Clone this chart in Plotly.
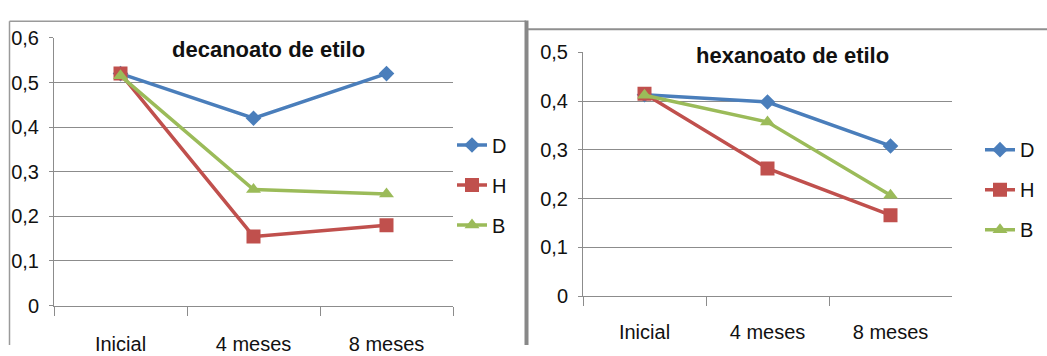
import plotly.graph_objects as go

# --- data -------------------------------------------------------------
categorias = ["Inicial", "4 meses", "8 meses"]

dec_D = [0.52, 0.42, 0.52]
dec_H = [0.52, 0.155, 0.18]
dec_B = [0.515, 0.26, 0.25]

hex_D = [0.413, 0.398, 0.308]
hex_H = [0.415, 0.262, 0.166]
hex_B = [0.412, 0.357, 0.207]

ticks_dec = [0, 0.1, 0.2, 0.3, 0.4, 0.5, 0.6]
labels_dec = ["0", "0,1", "0,2", "0,3", "0,4", "0,5", "0,6"]
ticks_hex = [0, 0.1, 0.2, 0.3, 0.4, 0.5]
labels_hex = ["0", "0,1", "0,2", "0,3", "0,4", "0,5"]

# --- style ------------------------------------------------------------
W, H = 1047, 356
FONT = "Arial, 'Liberation Sans', sans-serif"
GRID = "#8c8c8c"
TXT = "#111111"
series_style = {
    "D": dict(color="#4a7ebb", symbol="diamond", size=12),
    "H": dict(color="#c0504d", symbol="square", size=14),
    "B": dict(color="#9bbb59", symbol="triangle-up", size=13),
}


def px_x(p):
    return p / W


def px_y(p):
    return 1 - p / H


fig = go.Figure()

panels = [
    ("x", "y", "legend", {"D": dec_D, "H": dec_H, "B": dec_B}),
    ("x2", "y2", "legend2", {"D": hex_D, "H": hex_H, "B": hex_B}),
]
for xa, ya, leg, series in panels:
    for name, vals in series.items():
        st = series_style[name]
        fig.add_trace(go.Scatter(
            x=categorias, y=vals, name=name, mode="lines+markers",
            xaxis=xa, yaxis=ya, legend=leg, legendgroup=leg + name,
            line=dict(color=st["color"], width=3.5),
            marker=dict(symbol=st["symbol"], size=st["size"], color=st["color"]),
        ))


def xaxis_cfg(x0, x1, anchor, standoff):
    return dict(
        domain=[px_x(x0), px_x(x1)], anchor=anchor,
        type="category", categoryarray=categorias, range=[-0.5, 2.5],
        showgrid=False, zeroline=False,
        showline=True, linecolor=GRID, linewidth=1,
        ticks="outside", tickson="boundaries", ticklen=9, tickcolor=GRID, tickwidth=1,
        tickfont=dict(family=FONT, size=20, color=TXT),
        ticklabelstandoff=standoff, fixedrange=True,
    )


def yaxis_cfg(top_px, bottom_px, ymax, tv, tt, anchor):
    return dict(
        domain=[px_y(bottom_px), px_y(top_px)], anchor=anchor,
        range=[0, ymax], tickvals=tv, ticktext=tt,
        showgrid=True, gridcolor=GRID, gridwidth=1, zeroline=False,
        showline=True, linecolor=GRID, linewidth=1,
        ticks="outside", ticklen=4, tickcolor=GRID, tickwidth=1,
        tickfont=dict(family=FONT, size=20, color=TXT),
        ticklabelstandoff=6, fixedrange=True,
    )


legend_common = dict(
    xanchor="left", yanchor="top", bgcolor="rgba(0,0,0,0)",
    font=dict(family=FONT, size=20, color=TXT),
    tracegroupgap=11, itemwidth=30, borderwidth=0,
)

# panel frames
frame = [
    dict(type="line", xref="paper", yref="paper",
         x0=px_x(9.5), x1=px_x(9.5), y0=px_y(356), y1=px_y(11),
         line=dict(color="#9a9a9a", width=1.5)),
    dict(type="line", xref="paper", yref="paper",
         x0=px_x(9.5), x1=px_x(526), y0=px_y(11), y1=px_y(11),
         line=dict(color="#9a9a9a", width=1.5)),
    dict(type="line", xref="paper", yref="paper",
         x0=px_x(526.5), x1=px_x(526.5), y0=px_y(356), y1=px_y(10),
         line=dict(color="#888888", width=4)),
    dict(type="line", xref="paper", yref="paper",
         x0=px_x(528), x1=px_x(1047), y0=px_y(19.5), y1=px_y(19.5),
         line=dict(color="#8f8f8f", width=2)),
]

titles = [
    dict(text="decanoato de etilo", x=px_x(268), y=px_y(41)),
    dict(text="hexanoato de etilo", x=px_x(792), y=px_y(47)),
]
annotations = [
    dict(text=t["text"], x=t["x"], y=t["y"], xref="paper", yref="paper",
         xanchor="center", yanchor="middle", showarrow=False,
         font=dict(family=FONT, size=22, color=TXT, weight="bold"))
    for t in titles
]

fig.update_layout(
    width=W, height=H, autosize=False,
    margin=dict(l=0, r=0, t=0, b=0),
    paper_bgcolor="white", plot_bgcolor="white",
    font=dict(family=FONT, size=20, color=TXT),
    xaxis=xaxis_cfg(54, 453, "y", 20),
    yaxis=yaxis_cfg(28.7, 314, 0.6, ticks_dec, labels_dec, "x"),
    xaxis2=xaxis_cfg(583, 952, "y2", 18),
    yaxis2=yaxis_cfg(44, 304, 0.5, ticks_hex, labels_hex, "x2"),
    legend=dict(x=px_x(452), y=px_y(122), **legend_common),
    legend2=dict(x=px_x(980), y=px_y(127), **legend_common),
    shapes=frame, annotations=annotations,
    showlegend=True,
)

fig.write_html("out.html")
